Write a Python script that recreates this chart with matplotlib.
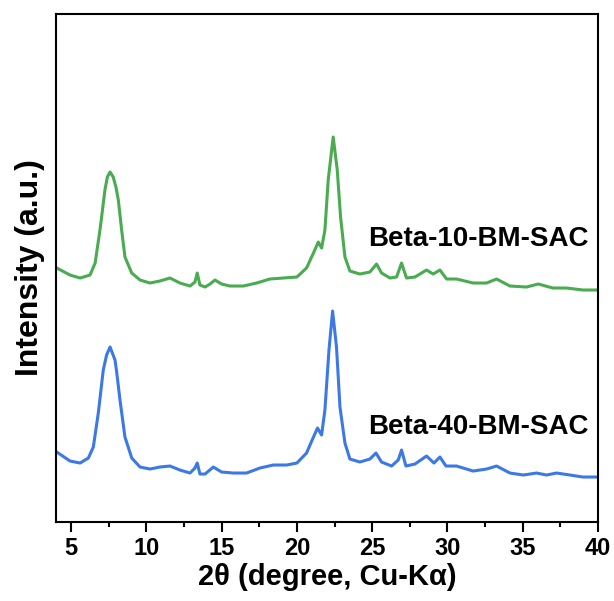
import matplotlib
matplotlib.use("Agg")
import matplotlib.pyplot as plt
from matplotlib.ticker import MultipleLocator

plt.rcParams['font.family'] = ['Liberation Sans', 'DejaVu Sans']
plt.rcParams['font.weight'] = 'bold'

# Beta-10-BM-SAC (offset trace)
tt_10 = [4.05, 4.93, 5.6, 6.26, 6.6, 6.92, 7.03, 7.25, 7.41, 7.59, 7.8, 7.98, 8.14, 8.36, 8.58, 9.03, 9.58,
         10.24, 10.9, 11.57, 12.23, 12.9, 13.23, 13.38, 13.56, 13.9, 14.23, 14.56, 15.0,
         15.55, 16.44, 17.33, 18.2, 19.1, 20.0, 20.64, 21.1, 21.42, 21.64, 21.86, 22.08,
         22.41, 22.68, 22.9, 23.19, 23.52, 24.18, 24.85, 25.29, 25.62, 26.18, 26.62, 26.95,
         27.28, 27.84, 28.61, 29.05, 29.5, 29.94, 30.6, 31.7, 32.6, 33.26, 34.15, 35.25,
         36.03, 37.0, 37.9, 39.0, 39.9]
int_10 = [254, 247, 244, 247, 259, 292, 305, 332, 345, 350, 345, 335, 322, 292, 265, 249, 242,
          239, 241, 244, 239, 236, 240, 249, 237, 235, 238, 242, 238,
          236, 236, 239, 243, 244, 245, 254, 269, 280, 274, 292, 342,
          385, 352, 305, 265, 251, 248, 250, 258, 249, 244, 245, 259,
          244, 245, 252, 248, 252, 243, 243, 239, 239, 243, 236, 235,
          238, 234, 234, 232, 232]

# Beta-40-BM-SAC
tt_40 = [4.05, 4.93, 5.6, 6.15, 6.48, 6.81, 7.14, 7.36, 7.59, 7.92, 8.03, 8.25, 8.58, 9.03, 9.58,
         10.24, 10.9, 11.57, 12.23, 12.9, 13.23, 13.38, 13.56, 13.9, 14.45, 15.0, 15.77,
         16.66, 17.54, 18.43, 19.32, 20.0, 20.64, 21.1, 21.37, 21.64, 21.86, 22.13, 22.37,
         22.63, 22.86, 23.19, 23.52, 24.18, 24.85, 25.25, 25.62, 26.29, 26.73, 26.95, 27.24,
         27.84, 28.61, 29.1, 29.5, 29.9, 30.6, 31.7, 32.6, 33.26, 34.15, 35.04, 35.92,
         36.58, 37.25, 38.13, 39.0, 39.9]
int_40 = [70, 61, 59, 64, 75, 109, 152, 167, 175, 162, 150, 122, 85, 64, 55,
          53, 55, 56, 52, 49, 54, 59, 48, 48, 55, 50, 49,
          49, 54, 57, 57, 59, 69, 85, 94, 87, 112, 172, 211,
          175, 115, 79, 63, 60, 63, 69, 60, 56, 62, 72, 56,
          58, 66, 59, 65, 56, 56, 51, 53, 56, 49, 47, 49,
          47, 49, 47, 45, 45]

fig = plt.figure(figsize=(6.14, 6.01), dpi=100)
ax = fig.add_axes([0.0912, 0.1314, 0.8828, 0.8453])

ax.plot(tt_10, int_10, color='#4aab50', lw=2.2)
ax.plot(tt_40, int_40, color='#3c78e6', lw=2.2)

ax.text(39.4, 283, 'Beta-10-BM-SAC', ha='right', va='center', fontsize=20, fontweight='bold')
ax.text(39.4, 95, 'Beta-40-BM-SAC', ha='right', va='center', fontsize=20, fontweight='bold')

ax.set_xlim(4, 40)
ax.set_ylim(0, 508)
ax.xaxis.set_major_locator(MultipleLocator(5))
ax.xaxis.set_minor_locator(MultipleLocator(2.5))
ax.tick_params(axis='x', which='major', direction='out', length=7, width=1.5, labelsize=17, pad=4)
ax.tick_params(axis='x', which='minor', direction='out', length=3.5, width=1.5)
ax.set_yticks([])
for s in ax.spines.values():
    s.set_linewidth(1.5)

ax.set_xlabel('2θ (degree, Cu-Kα)', fontsize=21, fontweight='bold', labelpad=2)
ax.set_ylabel('Intensity (a.u.)', fontsize=23, fontweight='bold', labelpad=8)

plt.savefig('out.png', dpi=100)
